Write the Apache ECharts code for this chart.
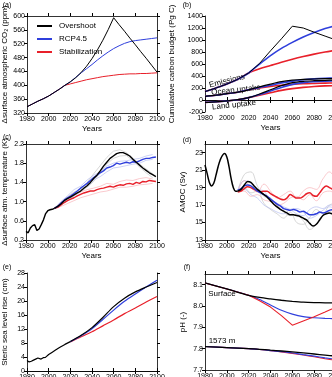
<!DOCTYPE html>
<html>
<head>
<meta charset="utf-8">
<script src="https://cdn.jsdelivr.net/npm/echarts@6/dist/echarts.min.js"></script>
<style>
  html, body { margin: 0; padding: 0; background: #fff; }
  #chart { width: 332px; height: 377px; }
</style>
</head>
<body>
<div id="chart"></div>
<script>
// ---- data ----
// (a) CO2
var aYears = [1980,1985,1990,1995,2000,2005,2010,2015,2020,2025,2030,2035,2040,2045,2050,2055,2060,2065,2070,2075,2080,2085,2090,2095,2100];
var aOver = [338,346,354,361,369,379,389,400,410,422,437,455,477,502,530,561,595,575,556,536,517,497,478,458,438];
var aRcp = [338,346,354,361,369,379,389,400,410,423,436,448,460,473,485,496,506,514,521,526,529,531,533,535,537];
var aStab = [338,346,354,361,369,379,389,400,404,408,412,416,419,422,425,427,429,431,432,433,433,434,434,435,436];
var aTicks = [320,360,400,440,480,520,560,600];

// (b) cumulative carbon budget
var bYears = [1980,1990,2000,2010,2020,2030,2040,2050,2060,2070,2080,2090,2100];
var bEmisOver = [140,200,265,345,450,610,820,1020,1230,1200,1130,1065,1000];
var bEmisRcp = [140,200,265,345,450,600,740,860,960,1050,1125,1190,1240];
var bEmisStab = [140,200,265,345,450,520,575,630,680,725,765,800,830];
var bOceanOver = [60,80,105,130,170,220,265,305,330,345,350,355,355];
var bOceanRcp = [60,80,105,130,170,210,245,285,315,338,352,362,370];
var bOceanStab = [60,80,105,130,170,200,225,245,260,270,276,281,285];
var bLandOver = [-40,-30,-15,5,40,100,170,240,290,312,322,328,332];
var bLandRcp = [-40,-30,-15,5,40,90,150,210,260,290,305,315,320];
var bLandStab = [-40,-30,-15,5,40,80,120,160,190,210,225,235,240];
var bTicks = [-200,0,200,400,600,800,1000,1200,1400];

// (c) surface temperature
var cHistYears = [1980,1982,1984,1986,1988,1990,1992,1994,1996,1998,2000,2002,2004,2006];
var cHist = [0.38,0.35,0.45,0.5,0.52,0.4,0.43,0.52,0.62,0.75,0.81,0.83,0.84,0.86];
var cYears = [2006,2009,2012,2015,2018,2021,2024,2027,2030,2033,2036,2039,2042,2045,2048,2051,2054,2057,2060,2063,2066,2069,2072,2075,2078,2081,2084,2087,2090,2093,2096,2099];
var cOver = [0.86,0.9,0.95,1.02,1.06,1.1,1.14,1.18,1.22,1.28,1.33,1.4,1.48,1.55,1.64,1.74,1.82,1.9,1.95,2.0,2.02,2.02,1.99,1.95,1.88,1.82,1.76,1.7,1.65,1.6,1.56,1.52];
var cRcp = [0.86,0.9,0.97,1.03,1.08,1.12,1.17,1.22,1.28,1.33,1.38,1.44,1.5,1.55,1.6,1.64,1.7,1.72,1.75,1.8,1.78,1.8,1.82,1.8,1.83,1.82,1.85,1.88,1.9,1.9,1.92,1.93];
var cStab = [0.86,0.88,0.93,0.98,1.02,1.05,1.08,1.12,1.15,1.18,1.2,1.22,1.22,1.25,1.27,1.28,1.3,1.32,1.3,1.33,1.35,1.34,1.37,1.38,1.36,1.4,1.38,1.42,1.41,1.44,1.43,1.42];
var cEnsYears = [2006,2012,2018,2024,2030,2036,2042,2048,2054,2060,2066,2072,2078,2084,2090,2096];
var cOverEns1 = [0.86,0.98,1.1,1.2,1.26,1.4,1.58,1.75,1.92,2.05,2.08,2.02,1.9,1.78,1.68,1.58];
var cOverEns2 = [0.86,0.92,1.02,1.12,1.2,1.3,1.42,1.6,1.78,1.9,1.95,1.96,1.85,1.72,1.6,1.5];
var cRcpEns1 = [0.86,1.0,1.12,1.25,1.32,1.45,1.55,1.62,1.74,1.8,1.84,1.85,1.88,1.9,1.95,1.98];
var cRcpEns2 = [0.86,0.94,1.02,1.12,1.22,1.32,1.45,1.52,1.62,1.7,1.72,1.75,1.78,1.8,1.86,1.88];
var cStabEns1 = [0.86,0.98,1.08,1.15,1.2,1.25,1.28,1.32,1.38,1.36,1.42,1.45,1.44,1.48,1.5,1.47];
var cStabEns2 = [0.86,0.9,0.96,1.02,1.08,1.12,1.16,1.2,1.22,1.26,1.3,1.3,1.32,1.35,1.36,1.38];
var cTicks = [0.2,0.6,1.0,1.4,1.8,2.2];

// (d) AMOC
var dHistYears = [1980,1982,1984,1986,1988,1990,1992,1994,1996,1998,2000,2002,2004,2006,2008,2010];
var dHist = [21.6,20.6,19.6,19.2,19.5,20.4,21.4,22.2,22.7,22.9,22.5,21.4,20.0,19.0,18.6,18.6];
var dYears = [2010,2013,2016,2019,2022,2025,2028,2031,2034,2037,2040,2043,2046,2049,2052,2055,2058,2061,2064,2067,2070,2073,2076,2079,2082,2085,2088,2091,2094,2097,2100];
var dOver = [18.6,18.8,19.3,19.7,19.6,19.2,18.8,18.5,18.2,17.9,17.5,17.1,16.8,16.5,16.3,16.1,15.9,15.9,15.8,15.7,15.5,15.3,14.9,14.6,14.8,15.3,15.8,16.0,16.1,16.0,16.5];
var dRcp = [18.7,18.9,19.2,19.3,19.2,18.9,18.6,18.4,18.2,18.0,17.7,17.4,17.1,16.9,16.6,16.5,16.4,16.5,16.4,16.2,16.3,16.1,15.9,15.9,16.0,16.2,16.1,16.2,16.4,16.5,16.7];
var dStab = [18.5,18.6,18.9,19.1,19.0,18.8,18.6,18.5,18.6,18.6,18.3,18.1,17.9,17.7,17.6,17.8,18.2,18.0,17.8,17.8,18.0,18.3,18.4,18.1,18.0,18.4,18.9,19.2,19.0,18.8,18.7];
var dEnsYears = [2010,2016,2022,2028,2034,2040,2046,2052,2058,2064,2070,2076,2082,2088,2094,2100];
var dOverEns1 = [18.6,20.5,20.8,19.2,18.0,17.8,17.0,16.2,15.8,15.9,15.2,14.2,14.8,15.8,16.2,16.8];
var dOverEns2 = [18.6,19.0,18.4,18.6,17.2,16.5,16.0,15.5,16.2,15.0,14.8,15.6,16.5,16.0,17.0,17.2];
var dRcpEns1 = [18.7,19.8,19.5,18.8,18.6,17.5,17.2,16.8,16.5,16.0,15.8,16.5,16.8,16.6,17.0,17.0];
var dRcpEns2 = [18.7,18.8,18.2,17.8,17.0,16.6,16.2,16.0,16.5,16.6,16.2,15.5,15.8,16.4,16.8,16.5];
var dStabEns1 = [18.5,19.8,19.0,18.5,19.4,18.6,17.8,18.2,18.6,17.8,18.6,19.0,18.8,20.0,20.8,19.8];
var dStabEns2 = [18.5,18.6,18.0,18.2,17.6,17.4,17.0,17.2,17.8,18.0,17.6,18.2,17.5,18.4,18.6,18.2];
var dTicks = [13,15,17,19,21,23];

// (e) steric sea level rise
var eHistYears = [1980,1982,1984,1986,1988,1990,1991,1993,1995,1997,2000,2003,2006,2010,2015,2020];
var eHist = [3.0,2.6,2.8,3.1,3.4,3.7,3.2,3.4,3.8,3.9,4.7,5.3,5.9,6.7,7.6,8.4];
var eYears = [2020,2030,2040,2050,2060,2070,2080,2090,2100];
var eOver = [8.4,10.2,12.4,15.3,18.4,20.8,22.6,24.0,25.3];
var eRcp = [8.4,10.1,12.1,14.7,17.4,19.9,22.0,24.0,25.9];
var eStab = [8.3,9.8,11.2,12.9,14.6,16.4,18.0,19.7,21.3];
var eTicks = [0,4,8,12,16,20,24,28];

// (f) pH
var fYears = [1980,2000,2020,2030,2040,2050,2060,2070,2080,2090,2100];
var fSurfOver = [8.108,8.08,8.05,8.04,8.033,8.027,8.022,8.018,8.016,8.015,8.014];
var fSurfRcp = [8.108,8.08,8.05,8.03,8.005,7.98,7.962,7.95,7.945,7.942,7.94];
var fSurfStab = [8.108,8.08,8.05,8.025,7.995,7.955,7.91,7.93,7.95,7.972,7.995];
var fDeepOver = [7.81,7.805,7.8,7.797,7.793,7.789,7.785,7.78,7.775,7.77,7.765];
var fDeepRcp = [7.81,7.805,7.8,7.796,7.791,7.786,7.78,7.772,7.765,7.757,7.75];
var fDeepStab = [7.81,7.805,7.8,7.796,7.791,7.785,7.778,7.77,7.762,7.753,7.745];
var fTicks = [7.7,7.8,7.9,8.0,8.1];

var yearTicks = [1980,2000,2020,2040,2060,2080,2100];

// ---- styling ----
var BLACK = '#000000', BLUE = '#2f3fdc', RED = '#e8202a';
var GREY = '#bdbdbd', LBLUE = '#aab4ef', PINK = '#f6a6ad';
var FONT = 'Liberation Sans';

var grids = [
  { left: 27, top: 16, width: 130, height: 97 },
  { left: 205, top: 16, width: 131, height: 96 },
  { left: 26, top: 144, width: 131, height: 96 },
  { left: 205, top: 144, width: 131, height: 96 },
  { left: 27, top: 273, width: 130, height: 98 },
  { left: 205, top: 274, width: 131, height: 96 }
].map(function (g) {
  return Object.assign({ containLabel: false, outerBoundsMode: 'none' }, g);
});

var yCfg = [
  { ticks: aTicks, min: 320, max: 600, name: 'Δsurface atmospheric CO₂ (ppm)', gap: 18, dec: 0 },
  { ticks: bTicks, min: -200, max: 1400, name: 'Cumulative carbon budget (Pg C)', gap: 29, dec: 0 },
  { ticks: cTicks, min: 0.2, max: 2.2, name: 'Δsurface atm. temperature (K)', gap: 17, dec: 1 },
  { ticks: dTicks, min: 13, max: 24, name: 'AMOC (Sv)', gap: 18, dec: 0 },
  { ticks: eTicks, min: 0, max: 28, name: 'Steric sea level rise (cm)', gap: 18, dec: 0 },
  { ticks: fTicks, min: 7.7, max: 8.15, name: 'pH (-)', gap: 18, dec: 1 }
];

var axisLine = { show: true, lineStyle: { color: BLACK, width: 0.8 } };
var xAxes = [], yAxes = [];
grids.forEach(function (g, i) {
  var base = {
    type: 'value', gridIndex: i, min: 1980, max: 2100,
    splitLine: { show: false }, axisLine: axisLine
  };
  xAxes.push(Object.assign({}, base, {
    position: 'bottom',
    name: 'Years', nameLocation: 'middle', nameGap: 12,
    nameTextStyle: { fontSize: 8, fontFamily: FONT, color: BLACK },
    axisTick: { show: true, length: 3, lineStyle: { color: BLACK }, customValues: yearTicks },
    axisLabel: {
      fontSize: 7, margin: 3, color: BLACK, fontFamily: FONT, customValues: yearTicks,
      formatter: function (v) { return String(v); }
    }
  }));
  xAxes.push(Object.assign({}, base, {
    position: 'top',
    axisTick: { show: true, length: 3, lineStyle: { color: BLACK }, customValues: yearTicks },
    axisLabel: { show: false }
  }));
  var c = yCfg[i];
  var ybase = {
    type: 'value', gridIndex: i, min: c.min, max: c.max,
    splitLine: { show: false }, axisLine: axisLine
  };
  yAxes.push(Object.assign({}, ybase, {
    position: 'left',
    name: c.name, nameLocation: 'middle', nameGap: c.gap, nameRotate: 90,
    nameTextStyle: { fontSize: 8, fontFamily: FONT, color: BLACK },
    axisTick: { show: true, length: 3, lineStyle: { color: BLACK }, customValues: c.ticks },
    axisLabel: {
      fontSize: 7, margin: 2, color: BLACK, fontFamily: FONT, customValues: c.ticks,
      formatter: function (v) { return v.toFixed(c.dec); }
    }
  }));
  yAxes.push(Object.assign({}, ybase, {
    position: 'right',
    axisTick: { show: true, length: 3, lineStyle: { color: BLACK }, customValues: c.ticks },
    axisLabel: { show: false }
  }));
});

function pairs(xs, ys) {
  return xs.map(function (x, i) { return [x, ys[i]]; });
}

function line(panel, xs, ys, color, width, opts) {
  opts = opts || {};
  return {
    type: 'line', name: opts.name,
    xAxisIndex: panel * 2, yAxisIndex: panel * 2,
    data: pairs(xs, ys), showSymbol: false, symbol: 'none',
    smooth: opts.smooth || false,
    lineStyle: { color: color, width: width },
    itemStyle: { color: color },
    silent: true, z: opts.z || 2
  };
}

var series = [
  // (a)
  line(0, aYears, aStab, RED, 1, { name: 'Stabilization' }),
  line(0, aYears, aRcp, BLUE, 1, { name: 'RCP4.5' }),
  line(0, aYears, aOver, BLACK, 1, { name: 'Overshoot' }),

  // (b)
  line(1, bYears, bEmisStab, RED, 1.6, { smooth: 0.3 }),
  line(1, bYears, bEmisRcp, BLUE, 1.6, { smooth: 0.3 }),
  line(1, bYears, bEmisOver, BLACK, 1, {}),
  line(1, bYears, bOceanStab, RED, 1.6, { smooth: 0.3 }),
  line(1, bYears, bOceanRcp, BLUE, 1.6, { smooth: 0.3 }),
  line(1, bYears, bOceanOver, BLACK, 1.2, { smooth: 0.3 }),
  line(1, bYears, bLandStab, RED, 1.6, { smooth: 0.3 }),
  line(1, bYears, bLandRcp, BLUE, 1.6, { smooth: 0.3 }),
  line(1, bYears, bLandOver, BLACK, 1.2, { smooth: 0.3 }),

  // (c)
  line(2, cEnsYears, cOverEns1, GREY, 0.6),
  line(2, cEnsYears, cOverEns2, GREY, 0.6),
  line(2, cEnsYears, cRcpEns1, LBLUE, 0.6),
  line(2, cEnsYears, cRcpEns2, LBLUE, 0.6),
  line(2, cEnsYears, cStabEns1, PINK, 0.6),
  line(2, cEnsYears, cStabEns2, PINK, 0.6),
  line(2, cYears, cStab, RED, 1.4, { z: 3 }),
  line(2, cYears, cRcp, BLUE, 1.4, { z: 3 }),
  line(2, cYears, cOver, BLACK, 1.4, { z: 3 }),
  line(2, cHistYears, cHist, BLACK, 1.4, { z: 3 }),

  // (d)
  line(3, dEnsYears, dOverEns1, GREY, 0.6, { smooth: 0.4 }),
  line(3, dEnsYears, dOverEns2, GREY, 0.6, { smooth: 0.4 }),
  line(3, dEnsYears, dRcpEns1, LBLUE, 0.6, { smooth: 0.4 }),
  line(3, dEnsYears, dRcpEns2, LBLUE, 0.6, { smooth: 0.4 }),
  line(3, dEnsYears, dStabEns1, PINK, 0.6, { smooth: 0.4 }),
  line(3, dEnsYears, dStabEns2, PINK, 0.6, { smooth: 0.4 }),
  line(3, dYears, dStab, RED, 1.5, { smooth: 0.3, z: 3 }),
  line(3, dYears, dRcp, BLUE, 1.5, { smooth: 0.3, z: 3 }),
  line(3, dYears, dOver, BLACK, 1.5, { smooth: 0.3, z: 3 }),
  line(3, dHistYears, dHist, BLACK, 1.5, { smooth: 0.4, z: 3 }),

  // (e)
  line(4, eYears, eStab, RED, 1.2, { smooth: 0.3 }),
  line(4, eYears, eRcp, BLUE, 1.2, { smooth: 0.3 }),
  line(4, eYears, eOver, BLACK, 1.2, { smooth: 0.3 }),
  line(4, eHistYears, eHist, BLACK, 1.2, {}),

  // (f)
  line(5, fYears, fSurfRcp, BLUE, 1.1, { smooth: 0.3 }),
  line(5, fYears, fSurfStab, RED, 1.1, {}),
  line(5, fYears, fSurfOver, BLACK, 1.3, { smooth: 0.3 }),
  line(5, fYears, fDeepStab, RED, 1.1, { smooth: 0.3 }),
  line(5, fYears, fDeepRcp, BLUE, 1.1, { smooth: 0.3 }),
  line(5, fYears, fDeepOver, BLACK, 1.3, { smooth: 0.3 })
];

function label(x, y, text, rot, size) {
  return {
    type: 'text', x: x, y: y, rotation: (rot || 0) * Math.PI / 180, silent: true,
    style: { text: text, fontSize: size || 8, fontFamily: FONT, fill: BLACK, align: 'center', verticalAlign: 'middle' }
  };
}

var chart = echarts.init(document.getElementById('chart'), null, { renderer: 'canvas' });
chart.setOption({
  animation: false,
  backgroundColor: '#ffffff',
  textStyle: { fontFamily: FONT },
  grid: grids,
  xAxis: xAxes,
  yAxis: yAxes,
  legend: {
    data: ['Overshoot', 'RCP4.5', 'Stabilization'],
    orient: 'vertical', left: 32, top: 17, itemGap: 5,
    icon: 'rect', itemWidth: 15, itemHeight: 2,
    textStyle: { fontSize: 8, fontFamily: FONT, color: BLACK, padding: [0, 0, 0, 2] },
    selectedMode: false
  },
  series: series,
  graphic: [
    label(7, 5, '(a)', 0, 7),
    label(187, 5, '(b)', 0, 7),
    label(7, 137, '(c)', 0, 7),
    label(187, 140, '(d)', 0, 7),
    label(7, 267, '(e)', 0, 7),
    label(187, 267, '(f)', 0, 7),
    label(227, 81, 'Emissions', 14, 8),
    label(236, 90, 'Ocean uptake', 6, 8),
    label(234, 105, 'Land uptake', 6, 8),
    label(222, 294, 'Surface', 0, 8),
    label(222, 341, '1573 m', 0, 8)
  ]
});
</script>
</body>
</html>
